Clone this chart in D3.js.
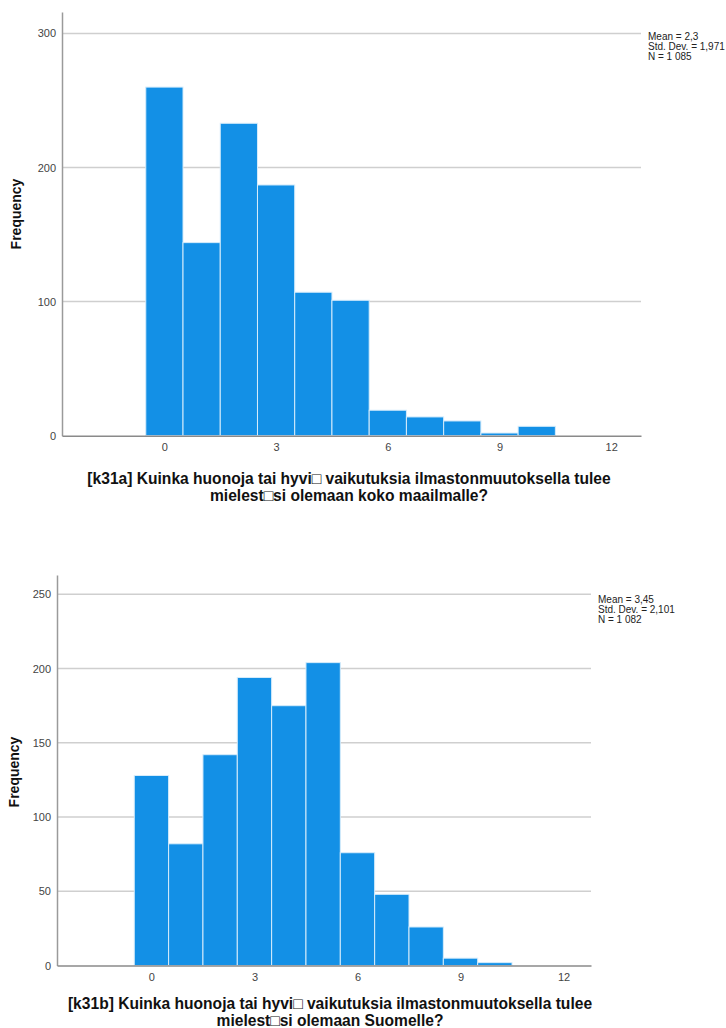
<!DOCTYPE html>
<html><head><meta charset="utf-8">
<script src="https://cdn.jsdelivr.net/npm/d3@7"></script>
<style>
html,body{margin:0;padding:0;background:#fff;}
svg{display:block;font-family:"Liberation Sans",Arial,sans-serif;}
</style>
</head><body>
<svg id="c" width="726" height="1028"></svg>
<script>
// ---- data ----
const bins = [0,1,2,3,4,5,6,7,8,9,10];
const freqA = [260,144,233,187,107,101,19,14,11,2,7];
const freqB = [128,82,142,194,175,204,76,48,26,5,2];
const xTicks = [0,3,6,9,12];
const yTicksA = [0,100,200,300];
const yTicksB = [0,50,100,150,200,250];
const statsA = ["Mean = 2,3","Std. Dev. = 1,971","N = 1 085"];
const statsB = ["Mean = 3,45","Std. Dev. = 2,101","N = 1 082"];
const titleA = ["[k31a] Kuinka huonoja tai hyvi\u25A1 vaikutuksia ilmastonmuutoksella tulee","mielest\u25A1si olemaan koko maailmalle?"];
const titleB = ["[k31b] Kuinka huonoja tai hyvi\u25A1 vaikutuksia ilmastonmuutoksella tulee","mielest\u25A1si olemaan Suomelle?"];
const yLabel = "Frequency";

const svg = d3.select("#c");

function hist(o){
  const g = svg.append("g");
  const x = d3.scaleLinear().domain([-2.75,12.8]).range([o.left,o.right]);
  const y = d3.scaleLinear().domain([0,o.ymax]).range([o.bottom,o.top]);
  // gridlines
  g.selectAll("line.grid").data(o.yTicks.filter(d=>d>0)).join("line")
    .attr("x1",o.left).attr("x2",o.right)
    .attr("y1",d=>y(d)).attr("y2",d=>y(d))
    .attr("stroke","#cfcfcf").attr("stroke-width",1.5);
  // bars
  g.selectAll("rect").data(o.freq).join("rect")
    .attr("x",(d,i)=>x(bins[i]-0.5))
    .attr("width",(d,i)=>x(bins[i]+0.5)-x(bins[i]-0.5))
    .attr("y",d=>y(d))
    .attr("height",d=>y(0)-y(d))
    .attr("fill","#1390e6")
    .attr("stroke","#d6ecfb").attr("stroke-width",1);
  // y axis
  const ya = d3.axisLeft(y).tickValues(o.yTicks).tickSize(0).tickPadding(6).tickFormat(d3.format("d"));
  const yg = g.append("g").attr("transform",`translate(${o.left},0)`).call(ya);
  yg.select(".domain").attr("stroke","#9a9a9a").attr("stroke-width",1.5);
  yg.selectAll("text").attr("font-size",11).attr("fill","#444").attr("font-family","Liberation Sans, Arial, sans-serif");
  // x axis
  const xa = d3.axisBottom(x).tickValues(xTicks).tickSize(0).tickPadding(8);
  const xg = g.append("g").attr("transform",`translate(0,${o.bottom})`).call(xa);
  xg.select(".domain").attr("stroke","#8a8a8a").attr("stroke-width",1.5);
  xg.selectAll("text").attr("font-size",11).attr("fill","#444").attr("font-family","Liberation Sans, Arial, sans-serif");
  // y label
  g.append("text").attr("transform",`translate(${o.ylabX},${o.ylabY}) rotate(-90)`)
    .attr("text-anchor","middle").attr("font-size",14).attr("font-weight","bold").attr("fill","#111").text(yLabel);
  // stats
  g.selectAll("text.st").data(o.stats).join("text").attr("class","st")
    .attr("x",o.right+7).attr("y",(d,i)=>o.statsY+i*10)
    .attr("font-size",10).attr("fill","#222").text(d=>d);
  // title
  g.selectAll("text.tt").data(o.title).join("text").attr("class","tt")
    .attr("x",o.titleX).attr("y",(d,i)=>o.titleY+i*17)
    .attr("text-anchor","middle").attr("font-size",15.6).attr("font-weight","bold").attr("fill","#111").text(d=>d);
}

hist({freq:freqA,yTicks:yTicksA,ymax:316,left:62,right:641,top:12,bottom:435.7,
      stats:statsA,statsY:40,title:titleA,titleX:349,titleY:484,ylabX:21,ylabY:214});
hist({freq:freqB,yTicks:yTicksB,ymax:263,left:57,right:591,top:575,bottom:965.6,
      stats:statsB,statsY:603,title:titleB,titleX:330,titleY:1009,ylabX:19,ylabY:772});
</script>
</body></html>
